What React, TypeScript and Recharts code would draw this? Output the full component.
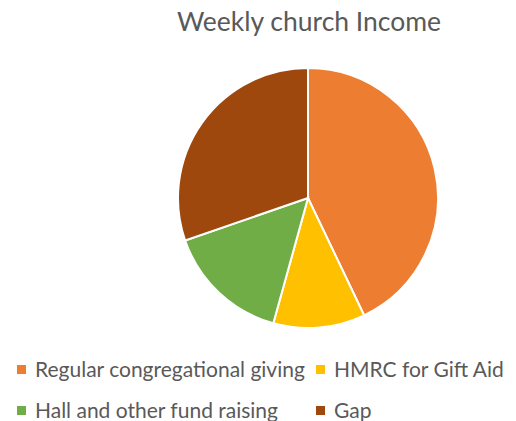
import { Legend, Pie, PieChart, Cell } from 'recharts';

const categories = ['Regular congregational giving', 'HMRC for Gift Aid', 'Hall and other fund raising', 'Gap'];
const values = [42.9, 11.4, 15.4, 30.3];
const colors = ['#ED7D31', '#FFC000', '#70AD47', '#9E480E'];

const data = categories.map((name, i) => ({ name, value: values[i] }));

const FONT = 'Lato, "Open Sans", sans-serif';

// two-column legend like the Excel original, kept in data order
const LegendGrid = () => {
  const cols = [17, 316];
  return (
    <div style={{ position: 'relative', width: 516, height: 80 }}>
      {categories.map((name, i) => {
        const col = i % 2;
        const row = Math.floor(i / 2);
        return (
          <div
            key={name}
            style={{
              position: 'absolute',
              left: cols[col],
              top: row * 41,
              display: 'flex',
              alignItems: 'center',
              whiteSpace: 'nowrap',
              fontFamily: FONT,
              fontSize: 21,
              color: '#595959',
              lineHeight: '24px',
            }}
          >
            <span style={{ display: 'inline-block', width: 9, height: 9, background: colors[i], marginRight: 9 }} />
            {name}
          </div>
        );
      })}
    </div>
  );
};

const App = () => {
  return (
    <div style={{ position: 'absolute', left: 0, top: 0, width: 516, height: 421, background: '#fff' }}>
      <div
        style={{
          position: 'absolute',
          left: 0,
          top: 5,
          width: 618,
          textAlign: 'center',
          fontFamily: FONT,
          fontSize: 26.5,
          color: '#595959',
        }}
      >
        Weekly church Income
      </div>
      <PieChart width={516} height={421} margin={{ top: 0, right: 0, bottom: 0, left: 0 }}>
        <Pie
          data={data}
          dataKey="value"
          nameKey="name"
          cx={308}
          cy={198}
          outerRadius={130}
          startAngle={90}
          endAngle={-270}
          stroke="#fff"
          strokeWidth={2}
          isAnimationActive={false}
        >
          {data.map((d, i) => (
            <Cell key={d.name} fill={colors[i]} />
          ))}
        </Pie>
        <Legend
          content={<LegendGrid />}
          wrapperStyle={{ position: 'absolute', left: 0, top: 357, width: 516 }}
        />
      </PieChart>
    </div>
  );
};

export default App;
